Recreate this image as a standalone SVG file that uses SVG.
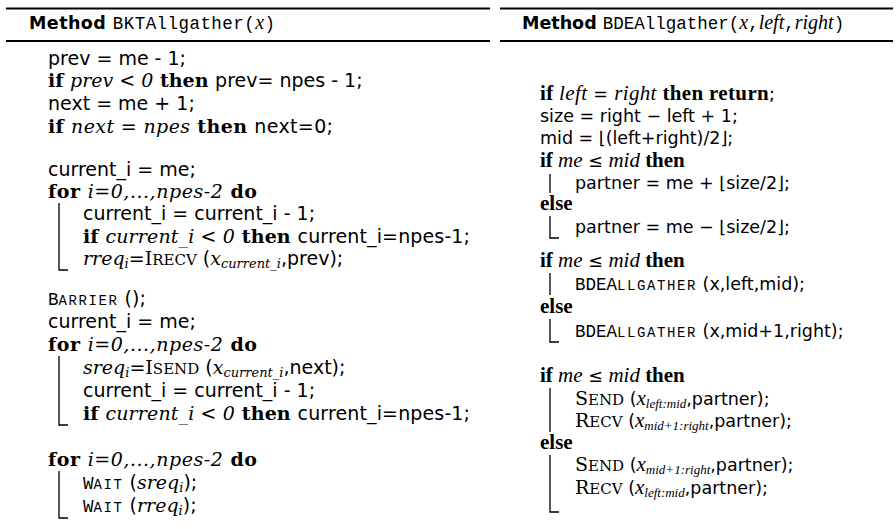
<svg xmlns="http://www.w3.org/2000/svg" width="896" height="529" viewBox="0 0 896 529">
<style>
text{font-family:"DejaVu Sans",sans-serif;font-size:19px;fill:#000}
.b{font-family:"DejaVu Serif",serif;font-weight:bold}
.m{font-family:"DejaVu Serif",serif;font-style:italic}
.r{font-size:17.5px}
.rb{font-family:"Liberation Serif",serif;font-weight:bold;font-size:21px}
.rm{font-family:"Liberation Serif",serif;font-style:italic;font-size:21px}
.t{font-family:"Liberation Mono",monospace;font-size:17.5px}
.h{font-weight:bold;font-size:17.5px}
.hm{font-family:"Liberation Serif",serif;font-style:italic;font-size:20px}
.sc{font-family:"DejaVu Serif",serif;font-size:19px}
.scs{font-family:"DejaVu Serif",serif;font-size:15px}
.tc{font-family:"Liberation Mono",monospace;font-size:17.5px}
.tcs{font-family:"Liberation Mono",monospace;font-size:14px;letter-spacing:1.6px}
.sub{font-size:13px}
.rule{stroke:#000;stroke-width:2.2;fill:none}
.bar{stroke:#000;stroke-width:1.3;fill:none}
</style>
<rect width="896" height="529" fill="#fff"/>
<g id="bkt">
<line class="rule" x1="6" y1="8.5" x2="490" y2="8.5"/>
<line class="rule" x1="6" y1="41" x2="490" y2="41"/>
<text x="29" y="29" textLength="246" lengthAdjust="spacing"><tspan class="h">Method </tspan><tspan class="t">BKTAllgather(</tspan><tspan class="hm">x</tspan><tspan class="t">)</tspan></text>
<text x="48" y="65">prev = me - 1;</text>
<text x="48" y="87"><tspan class="b">if </tspan><tspan class="m">prev</tspan><tspan> &lt; </tspan><tspan class="m">0</tspan><tspan class="b"> then </tspan><tspan>prev= npes - 1;</tspan></text>
<text x="48" y="110">next = me + 1;</text>
<text x="48" y="133" textLength="285" lengthAdjust="spacing"><tspan class="b">if </tspan><tspan class="m">next</tspan><tspan> = </tspan><tspan class="m">npes</tspan><tspan class="b"> then </tspan><tspan>next=0;</tspan></text>
<text x="48" y="176">current_i = me;</text>
<text x="48" y="198" textLength="209" lengthAdjust="spacing"><tspan class="b">for </tspan><tspan class="m">i=0,...,npes-2</tspan><tspan class="b"> do</tspan></text>
<text x="83" y="220">current_i = current_i - 1;</text>
<text x="83" y="243" textLength="387" lengthAdjust="spacing"><tspan class="b">if </tspan><tspan class="m">current_i</tspan><tspan> &lt; </tspan><tspan class="m">0</tspan><tspan class="b"> then </tspan><tspan>current_i=npes-1;</tspan></text>
<text x="83" y="265"><tspan class="m">rreq</tspan><tspan class="m sub" dy="3">i</tspan><tspan dy="-3">=</tspan><tspan class="sc">I</tspan><tspan class="scs">RECV</tspan><tspan> (</tspan><tspan class="m">x</tspan><tspan class="m sub" dy="3">current_i</tspan><tspan dy="-3">,prev);</tspan></text>
<path class="bar" d="M59 203V270H68"/>
<text x="48" y="305"><tspan class="tc">B</tspan><tspan class="tcs">ARRIER</tspan><tspan> ();</tspan></text>
<text x="48" y="328">current_i = me;</text>
<text x="48" y="351" textLength="209" lengthAdjust="spacing"><tspan class="b">for </tspan><tspan class="m">i=0,...,npes-2</tspan><tspan class="b"> do</tspan></text>
<text x="83" y="374"><tspan class="m">sreq</tspan><tspan class="m sub" dy="3">i</tspan><tspan dy="-3">=</tspan><tspan class="sc">I</tspan><tspan class="scs">SEND</tspan><tspan> (</tspan><tspan class="m">x</tspan><tspan class="m sub" dy="3">current_i</tspan><tspan dy="-3">,next);</tspan></text>
<text x="83" y="397">current_i = current_i - 1;</text>
<text x="83" y="420" textLength="387" lengthAdjust="spacing"><tspan class="b">if </tspan><tspan class="m">current_i</tspan><tspan> &lt; </tspan><tspan class="m">0</tspan><tspan class="b"> then </tspan><tspan>current_i=npes-1;</tspan></text>
<path class="bar" d="M59 356V425H68"/>
<text x="48" y="466" textLength="209" lengthAdjust="spacing"><tspan class="b">for </tspan><tspan class="m">i=0,...,npes-2</tspan><tspan class="b"> do</tspan></text>
<text x="83" y="489"><tspan class="tc">W</tspan><tspan class="tcs">AIT</tspan><tspan> (</tspan><tspan class="m">sreq</tspan><tspan class="m sub" dy="3">i</tspan><tspan dy="-3">);</tspan></text>
<text x="83" y="512"><tspan class="tc">W</tspan><tspan class="tcs">AIT</tspan><tspan> (</tspan><tspan class="m">rreq</tspan><tspan class="m sub" dy="3">i</tspan><tspan dy="-3">);</tspan></text>
<path class="bar" d="M59 471V518H68"/>
</g>
<g id="bde">
<line class="rule" x1="500" y1="8.5" x2="893" y2="8.5"/>
<line class="rule" x1="500" y1="41" x2="893" y2="41"/>
<text x="522" y="29"><tspan class="h">Method </tspan><tspan class="t">BDEAllgather(</tspan><tspan class="hm">x</tspan><tspan class="t">,</tspan><tspan class="hm">left</tspan><tspan class="t">,</tspan><tspan class="hm">right</tspan><tspan class="t">)</tspan></text>
<text x="540" y="100" textLength="235" lengthAdjust="spacing"><tspan class="rb">if </tspan><tspan class="rm">left</tspan><tspan class="r"> = </tspan><tspan class="rm">right</tspan><tspan class="rb"> then return</tspan><tspan class="r">;</tspan></text>
<text x="540" y="122" class="r">size = right − left + 1;</text>
<text x="540" y="144" class="r">mid = ⌊(left+right)/2⌋;</text>
<text x="540" y="167"><tspan class="rb">if </tspan><tspan class="rm">me</tspan><tspan class="r"> ≤ </tspan><tspan class="rm">mid</tspan><tspan class="rb"> then</tspan></text>
<text x="575" y="189" class="r">partner = me + ⌊size/2⌋;</text>
<path class="bar" d="M550 174V193"/>
<text x="540" y="210" class="rb">else</text>
<text x="575" y="233" class="r">partner = me − ⌊size/2⌋;</text>
<path class="bar" d="M550 216V238H559"/>
<text x="540" y="267"><tspan class="rb">if </tspan><tspan class="rm">me</tspan><tspan class="r"> ≤ </tspan><tspan class="rm">mid</tspan><tspan class="rb"> then</tspan></text>
<text x="575" y="290"><tspan class="tc">BDEA</tspan><tspan class="tcs">LLGATHER</tspan><tspan class="r"> (x,left,mid);</tspan></text>
<path class="bar" d="M550 273V295"/>
<text x="540" y="313" class="rb">else</text>
<text x="575" y="337"><tspan class="tc">BDEA</tspan><tspan class="tcs">LLGATHER</tspan><tspan class="r"> (x,mid+1,right);</tspan></text>
<path class="bar" d="M550 319V342H559"/>
<text x="540" y="382"><tspan class="rb">if </tspan><tspan class="rm">me</tspan><tspan class="r"> ≤ </tspan><tspan class="rm">mid</tspan><tspan class="rb"> then</tspan></text>
<text x="575" y="405"><tspan class="sc">S</tspan><tspan class="scs">END</tspan><tspan class="r"> (</tspan><tspan class="rm">x</tspan><tspan class="rm sub" dy="3">left:mid</tspan><tspan class="r" dy="-3">,partner);</tspan></text>
<text x="575" y="427"><tspan class="sc">R</tspan><tspan class="scs">ECV</tspan><tspan class="r"> (</tspan><tspan class="rm">x</tspan><tspan class="rm sub" dy="3">mid+1:right</tspan><tspan class="r" dy="-3">,partner);</tspan></text>
<path class="bar" d="M550 388V432"/>
<text x="540" y="449" class="rb">else</text>
<text x="575" y="471"><tspan class="sc">S</tspan><tspan class="scs">END</tspan><tspan class="r"> (</tspan><tspan class="rm">x</tspan><tspan class="rm sub" dy="3">mid+1:right</tspan><tspan class="r" dy="-3">,partner);</tspan></text>
<text x="575" y="494"><tspan class="sc">R</tspan><tspan class="scs">ECV</tspan><tspan class="r"> (</tspan><tspan class="rm">x</tspan><tspan class="rm sub" dy="3">left:mid</tspan><tspan class="r" dy="-3">,partner);</tspan></text>
<path class="bar" d="M550 455V512H559"/>
</g>
</svg>
